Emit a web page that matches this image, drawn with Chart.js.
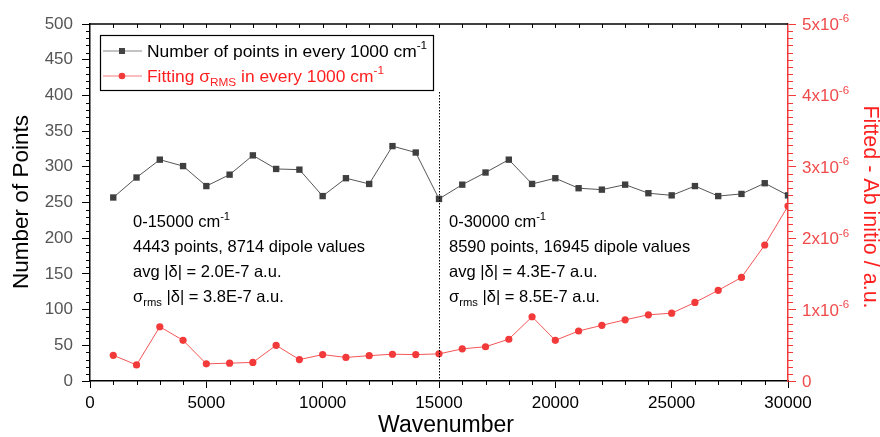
<!DOCTYPE html>
<html>
<head>
<meta charset="utf-8">
<script src="https://cdn.jsdelivr.net/npm/chart.js@4.4.1/dist/chart.umd.min.js"></script>
<style>
    html, body { margin: 0; padding: 0; background: #fff; }
    #wrap { width: 880px; height: 437px; }
</style>
</head>
<body>
<div id="wrap"><canvas id="chart" width="880" height="437"></canvas></div>
<script>
// Data
const wavenumbers = [1000, 2000, 3000, 4000, 5000, 6000, 7000, 8000, 9000, 10000,
    11000, 12000, 13000, 14000, 15000, 16000, 17000, 18000, 19000, 20000,
    21000, 22000, 23000, 24000, 25000, 26000, 27000, 28000, 29000, 30000];
const pointCounts = [257, 285, 310, 301, 273, 289, 316, 297, 296, 259,
    284, 276, 329, 320, 255, 275, 292, 310, 276, 284,
    270, 268, 275, 263, 260, 273, 259, 262, 277, 260];
const sigmaRms = [3.6e-7, 2.25e-7, 7.6e-7, 5.7e-7, 2.4e-7, 2.5e-7, 2.6e-7, 5.0e-7, 3.0e-7, 3.7e-7,
    3.3e-7, 3.55e-7, 3.75e-7, 3.7e-7, 3.8e-7, 4.5e-7, 4.8e-7, 5.85e-7, 9.0e-7, 5.7e-7,
    7.0e-7, 7.8e-7, 8.57e-7, 9.27e-7, 9.5e-7, 1.10e-6, 1.27e-6, 1.45e-6, 1.905e-6, 2.45e-6];
const rightTicks = [0, 1e-6, 2e-6, 3e-6, 4e-6, 5e-6];
const rightTickMantissa = ['0', '1', '2', '3', '4', '5'];
const splitAt = 15000;

const FONT = '"Liberation Sans", Arial, sans-serif';
const RED = '#f23a3a';
const RED_TXT = '#f04a4a';

// draws text with sup/sub pieces, returns end x
function drawRich(ctx, parts, x, y, size, color) {
    ctx.fillStyle = color;
    ctx.textBaseline = 'alphabetic';
    ctx.textAlign = 'left';
    parts.forEach(p => {
        let s = size, dy = 0;
        if (p.s === 'sup') { s = size * 0.68; dy = -size * 0.45; }
        if (p.s === 'sub') { s = size * 0.68; dy = size * 0.25; }
        ctx.font = s + 'px ' + FONT;
        ctx.fillText(p.t, x, y + dy);
        x += ctx.measureText(p.t).width;
    });
    return x;
}

const extras = {
    id: 'extras',
    afterDraw(chart) {
        const ctx = chart.ctx;
        const a = chart.chartArea;
        const x = chart.scales.x, y = chart.scales.y, y1 = chart.scales.y1;
        ctx.save();

        // top frame + inward ticks
        ctx.strokeStyle = '#000';
        ctx.lineWidth = 1.5;
        ctx.beginPath();
        ctx.moveTo(a.left, a.top);
        ctx.lineTo(a.right, a.top);
        ctx.stroke();
        ctx.lineWidth = 1;
        ctx.beginPath();
        for (let v = 1000; v < 30000; v += 1000) {
            const px = Math.round(x.getPixelForValue(v)) + 0.5;
            ctx.moveTo(px, a.top);
            ctx.lineTo(px, a.top + 4);
            if (v % 5000 !== 0) {
                ctx.moveTo(px, a.bottom);
                ctx.lineTo(px, a.bottom + 4);
            }
        }
        // left minor ticks
        for (let v = 10; v < 500; v += 10) {
            if (v % 50 === 0) continue;
            const py = Math.round(y.getPixelForValue(v)) + 0.5;
            ctx.moveTo(a.left, py);
            ctx.lineTo(a.left - 4, py);
        }
        ctx.stroke();

        // right minor ticks
        ctx.strokeStyle = RED;
        ctx.beginPath();
        for (let i = 1; i < 50; i++) {
            if (i % 10 === 0) continue;
            const py = Math.round(y1.getPixelForValue(i * 1e-7)) + 0.5;
            ctx.moveTo(a.right, py);
            ctx.lineTo(a.right + 5, py);
        }
        ctx.stroke();

        // right tick labels
        rightTicks.forEach((v, i) => {
            const py = y1.getPixelForValue(v) + 6;
            const parts = i === 0 ? [{t: '0'}] : [{t: rightTickMantissa[i] + 'x10'}, {t: '-6', s: 'sup'}];
            drawRich(ctx, parts, a.right + 14, py, 17, RED_TXT);
        });

        // dotted divider
        ctx.strokeStyle = '#000';
        ctx.lineWidth = 1;
        ctx.setLineDash([1.5, 1.5]);
        const dx = Math.round(x.getPixelForValue(splitAt)) + 0.5;
        ctx.beginPath();
        ctx.moveTo(dx, 92);
        ctx.lineTo(dx, a.bottom);
        ctx.stroke();
        ctx.setLineDash([]);

        // axis titles
        ctx.fillStyle = '#000';
        ctx.textAlign = 'center';
        ctx.textBaseline = 'middle';
        ctx.font = '23px ' + FONT;
        ctx.fillText('Wavenumber', (a.left + a.right) / 2 + 7, 426);
        ctx.save();
        ctx.font = '22.5px ' + FONT;
        ctx.translate(22, 202);
        ctx.rotate(-Math.PI / 2);
        ctx.fillText('Number of Points', 0, 0);
        ctx.restore();
        ctx.save();
        ctx.font = '21.5px ' + FONT;
        ctx.fillStyle = '#ff1f1f';
        ctx.translate(870, 207);
        ctx.rotate(Math.PI / 2);
        ctx.fillText('Fitted - Ab initio / a.u.', 0, 0);
        ctx.restore();

        // legend
        ctx.strokeStyle = '#000';
        ctx.lineWidth = 1.2;
        ctx.strokeRect(100.5, 35.5, 333, 55);
        ctx.lineWidth = 1;
        ctx.strokeStyle = '#888';
        ctx.beginPath(); ctx.moveTo(103, 51); ctx.lineTo(142, 51); ctx.stroke();
        ctx.fillStyle = '#444';
        ctx.fillRect(119, 48, 6, 6);
        ctx.strokeStyle = '#f57a7a';
        ctx.beginPath(); ctx.moveTo(103, 76); ctx.lineTo(142, 76); ctx.stroke();
        ctx.fillStyle = RED;
        ctx.beginPath(); ctx.arc(122, 76, 3.3, 0, Math.PI * 2); ctx.fill();
        drawRich(ctx, [{t: 'Number of points in every 1000 cm'}, {t: '-1', s: 'sup'}], 147, 57, 17.4, '#000');
        drawRich(ctx, [{t: 'Fitting σ'}, {t: 'RMS', s: 'sub'}, {t: ' in every 1000 cm'}, {t: '-1', s: 'sup'}], 147, 82, 17.4, '#ff1f1f');

        // annotations
        const notes = [
            {x: 133, lines: [
                [{t: '0-15000 cm'}, {t: '-1', s: 'sup'}],
                [{t: '4443 points, 8714 dipole values'}],
                [{t: 'avg |δ| = 2.0E-7 a.u.'}],
                [{t: 'σ'}, {t: 'rms', s: 'sub'}, {t: ' |δ| = 3.8E-7 a.u.'}]
            ]},
            {x: 449, lines: [
                [{t: '0-30000 cm'}, {t: '-1', s: 'sup'}],
                [{t: '8590 points, 16945 dipole values'}],
                [{t: 'avg |δ| = 4.3E-7 a.u.'}],
                [{t: 'σ'}, {t: 'rms', s: 'sub'}, {t: ' |δ| = 8.5E-7 a.u.'}]
            ]}
        ];
        notes.forEach(n => {
            n.lines.forEach((ln, i) => {
                drawRich(ctx, ln, n.x, 227 + i * 25, 16.5, '#000');
            });
        });

        ctx.restore();
    }
};

new Chart(document.getElementById('chart'), {
    type: 'line',
    data: {
        labels: wavenumbers,
        datasets: [
            {
                label: 'Number of points in every 1000 cm-1',
                data: wavenumbers.map((w, i) => ({x: w, y: pointCounts[i]})),
                yAxisID: 'y',
                borderColor: '#555',
                borderWidth: 1,
                backgroundColor: '#3f3f3f',
                pointBackgroundColor: '#3f3f3f',
                pointBorderWidth: 0,
                pointStyle: 'rect',
                pointRadius: 4.5,
                tension: 0
            },
            {
                label: 'Fitting sigma RMS in every 1000 cm-1',
                data: wavenumbers.map((w, i) => ({x: w, y: sigmaRms[i]})),
                yAxisID: 'y1',
                borderColor: '#f45555',
                borderWidth: 1,
                backgroundColor: RED,
                pointBackgroundColor: RED,
                pointBorderWidth: 0,
                pointRadius: 3.6,
                tension: 0
            }
        ]
    },
    options: {
        responsive: false,
        animation: false,
        layout: { padding: { top: 24, left: 0, right: 0, bottom: 0 } },
        plugins: {
            legend: { display: false },
            tooltip: { enabled: false }
        },
        scales: {
            x: {
                type: 'linear',
                min: 0,
                max: 30000,
                afterFit: s => { s.height = 56; },
                ticks: { stepSize: 5000, color: '#000', padding: 5, font: { size: 17, family: FONT }, maxRotation: 0,
                    callback: v => String(v) },
                grid: { drawOnChartArea: false, tickLength: 7, color: '#000', lineWidth: 1 },
                border: { color: '#000', width: 1.5 }
            },
            y: {
                position: 'left',
                min: 0,
                max: 500,
                afterFit: s => { s.width = 90; },
                ticks: { stepSize: 50, color: '#555', padding: 9, font: { size: 17, family: FONT } },
                grid: { drawOnChartArea: false, tickLength: 8, color: '#000', lineWidth: 1 },
                border: { color: '#000', width: 1.5 }
            },
            y1: {
                position: 'right',
                min: 0,
                max: 5e-6,
                afterFit: s => { s.width = 92; },
                ticks: { stepSize: 1e-6, callback: () => '', font: { size: 16, family: FONT } },
                grid: { drawOnChartArea: false, tickLength: 8, color: RED, lineWidth: 1 },
                border: { color: RED, width: 1.5 }
            }
        }
    },
    plugins: [extras]
});
</script>
</body>
</html>
